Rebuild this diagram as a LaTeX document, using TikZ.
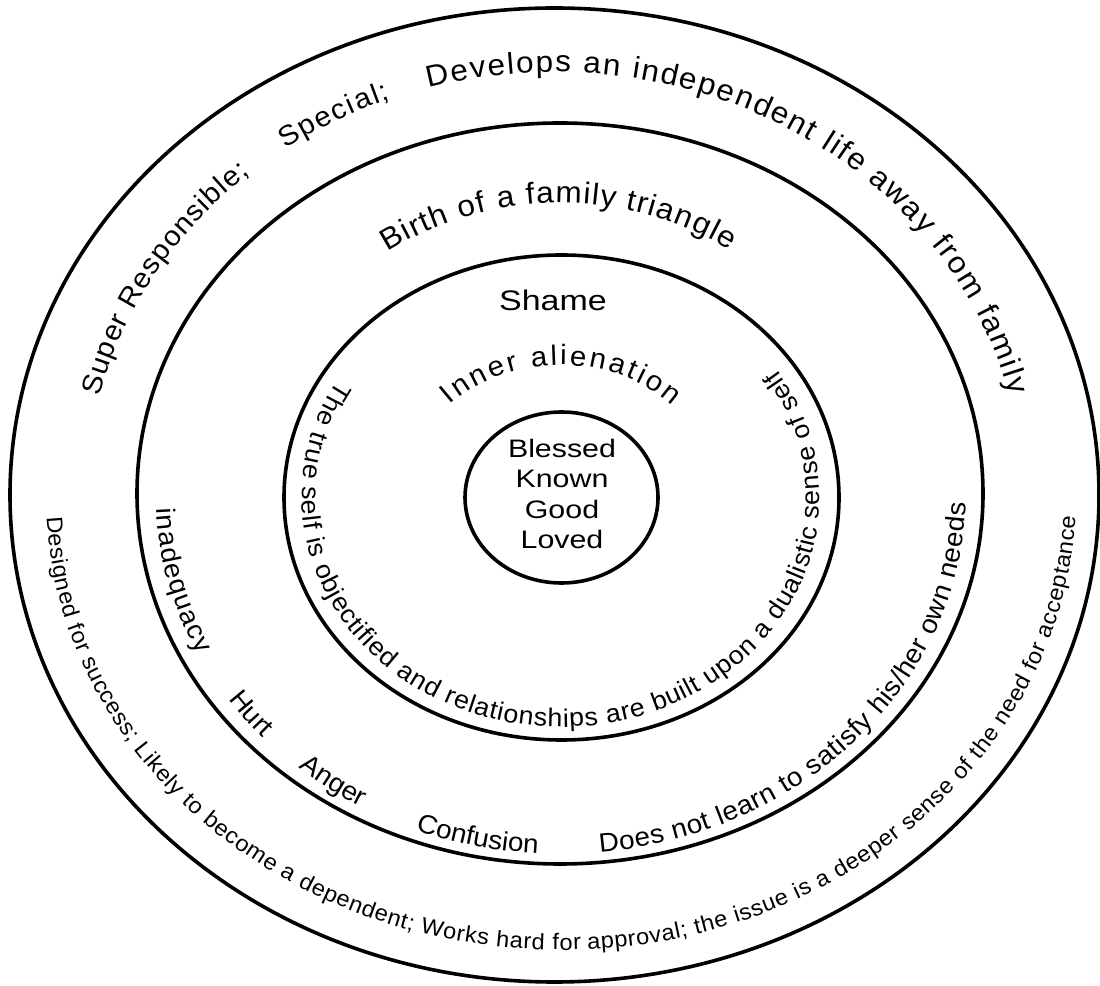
\documentclass[tikz,border=0pt]{standalone}
\usepackage{fontspec}
\setmainfont{Liberation Sans}
\newfontfamily\ringfont{Liberation Sans}[FakeStretch=1.05]
\newfontfamily\corefont{Liberation Sans}[FakeStretch=1.2]
\usetikzlibrary{decorations.text}

% text set on an arc: #1 font size, #2 the words
\tikzset{
  ring/.style={line width=3.6pt},
  fitarc/.style 2 args={decorate, decoration={text along path, text align={fit to path},
      text={|\fontsize{#1}{#1}\ringfont|#2}}},
  midarc/.style 2 args={decorate, decoration={text along path, text align=center,
      text={|\fontsize{#1}{#1}\ringfont|#2}}},
}

\begin{document}
\begin{tikzpicture}[x=1pt,y=1pt]
\useasboundingbox (0,0) rectangle (1100,985);

% the four rings
\draw[ring] (554.5,490) ellipse[x radius=544.5, y radius=487];
\draw[ring] (560,491.5) ellipse[x radius=423, y radius=370.5];
\draw[ring] (561.5,487.5) ellipse[x radius=277.5, y radius=242.5];
\draw[ring] (561.5,487.5) ellipse[x radius=96.5, y radius=85.5];

% core
\node (core) [align=center, font=\fontsize{25.3}{30.6}\corefont] at (562,491) {Blessed\\Known\\Good\\Loved};
\node (shame) [anchor=base, font=\fontsize{28.3}{28.3}\corefont] at (553,674) {Shame};

% outer band, upper arc
\path[fitarc={28}{Super Responsible;}] (554.5,490) ++(166.5:468 and 423)
  arc[start angle=166.5, end angle=130.6, x radius=468, y radius=423];
\path[fitarc={28}{Special;}] (554.5,490) ++(125.1:468 and 423)
  arc[start angle=125.1, end angle=110.5, x radius=468, y radius=423];
\path[fitarc={30}{Develops an independent life away from family}] (554.5,490) ++(105.6:468 and 423)
  arc[start angle=105.6, end angle=13.6, x radius=468, y radius=423];

% outer band, lower arc
\path[fitarc={22.5}{Designed for success; Likely to become a dependent; Works hard for approval; the issue is a deeper sense of the need for acceptance}]
  (561,490) ++(182.8:515 and 455)
  arc[start angle=182.8, end angle=357.2, x radius=515, y radius=455];

% middle band
\path[fitarc={30}{Birth of a family triangle}] (560,490) ++(123.7:311 and 292)
  arc[start angle=123.7, end angle=57, x radius=311, y radius=292];
\path[fitarc={26.5}{inadequacy}] (561,491) ++(182.3:405 and 360)
  arc[start angle=182.3, end angle=206.5, x radius=405, y radius=360];
\path[midarc={26.5}{Hurt}] (561,491) ++(203.5:405 and 360)
  arc[start angle=203.5, end angle=233.5, x radius=405, y radius=360];
\path[midarc={26.5}{Anger}] (561,491) ++(219.8:405 and 360)
  arc[start angle=219.8, end angle=249.8, x radius=405, y radius=360];
\path[midarc={26.5}{Confusion}] (561,491) ++(242.8:405 and 360)
  arc[start angle=242.8, end angle=272.8, x radius=405, y radius=360];
\path[fitarc={26.5}{Does not learn to satisfy his/her own needs}] (561,491) ++(275.5:405 and 360)
  arc[start angle=275.5, end angle=358.5, x radius=405, y radius=360];

% inner band
\path[fitarc={28}{Inner alienation}] (561,488) ++(135.8:155 and 132)
  arc[start angle=135.8, end angle=44, x radius=155, y radius=132];
\path[fitarc={25.5}{The true self is objectified and relationships are built upon a dualistic sense of self}]
  (561,488) ++(149.5:259 and 230)
  arc[start angle=149.5, end angle=393.6, x radius=259, y radius=230];
\end{tikzpicture}
\end{document}
